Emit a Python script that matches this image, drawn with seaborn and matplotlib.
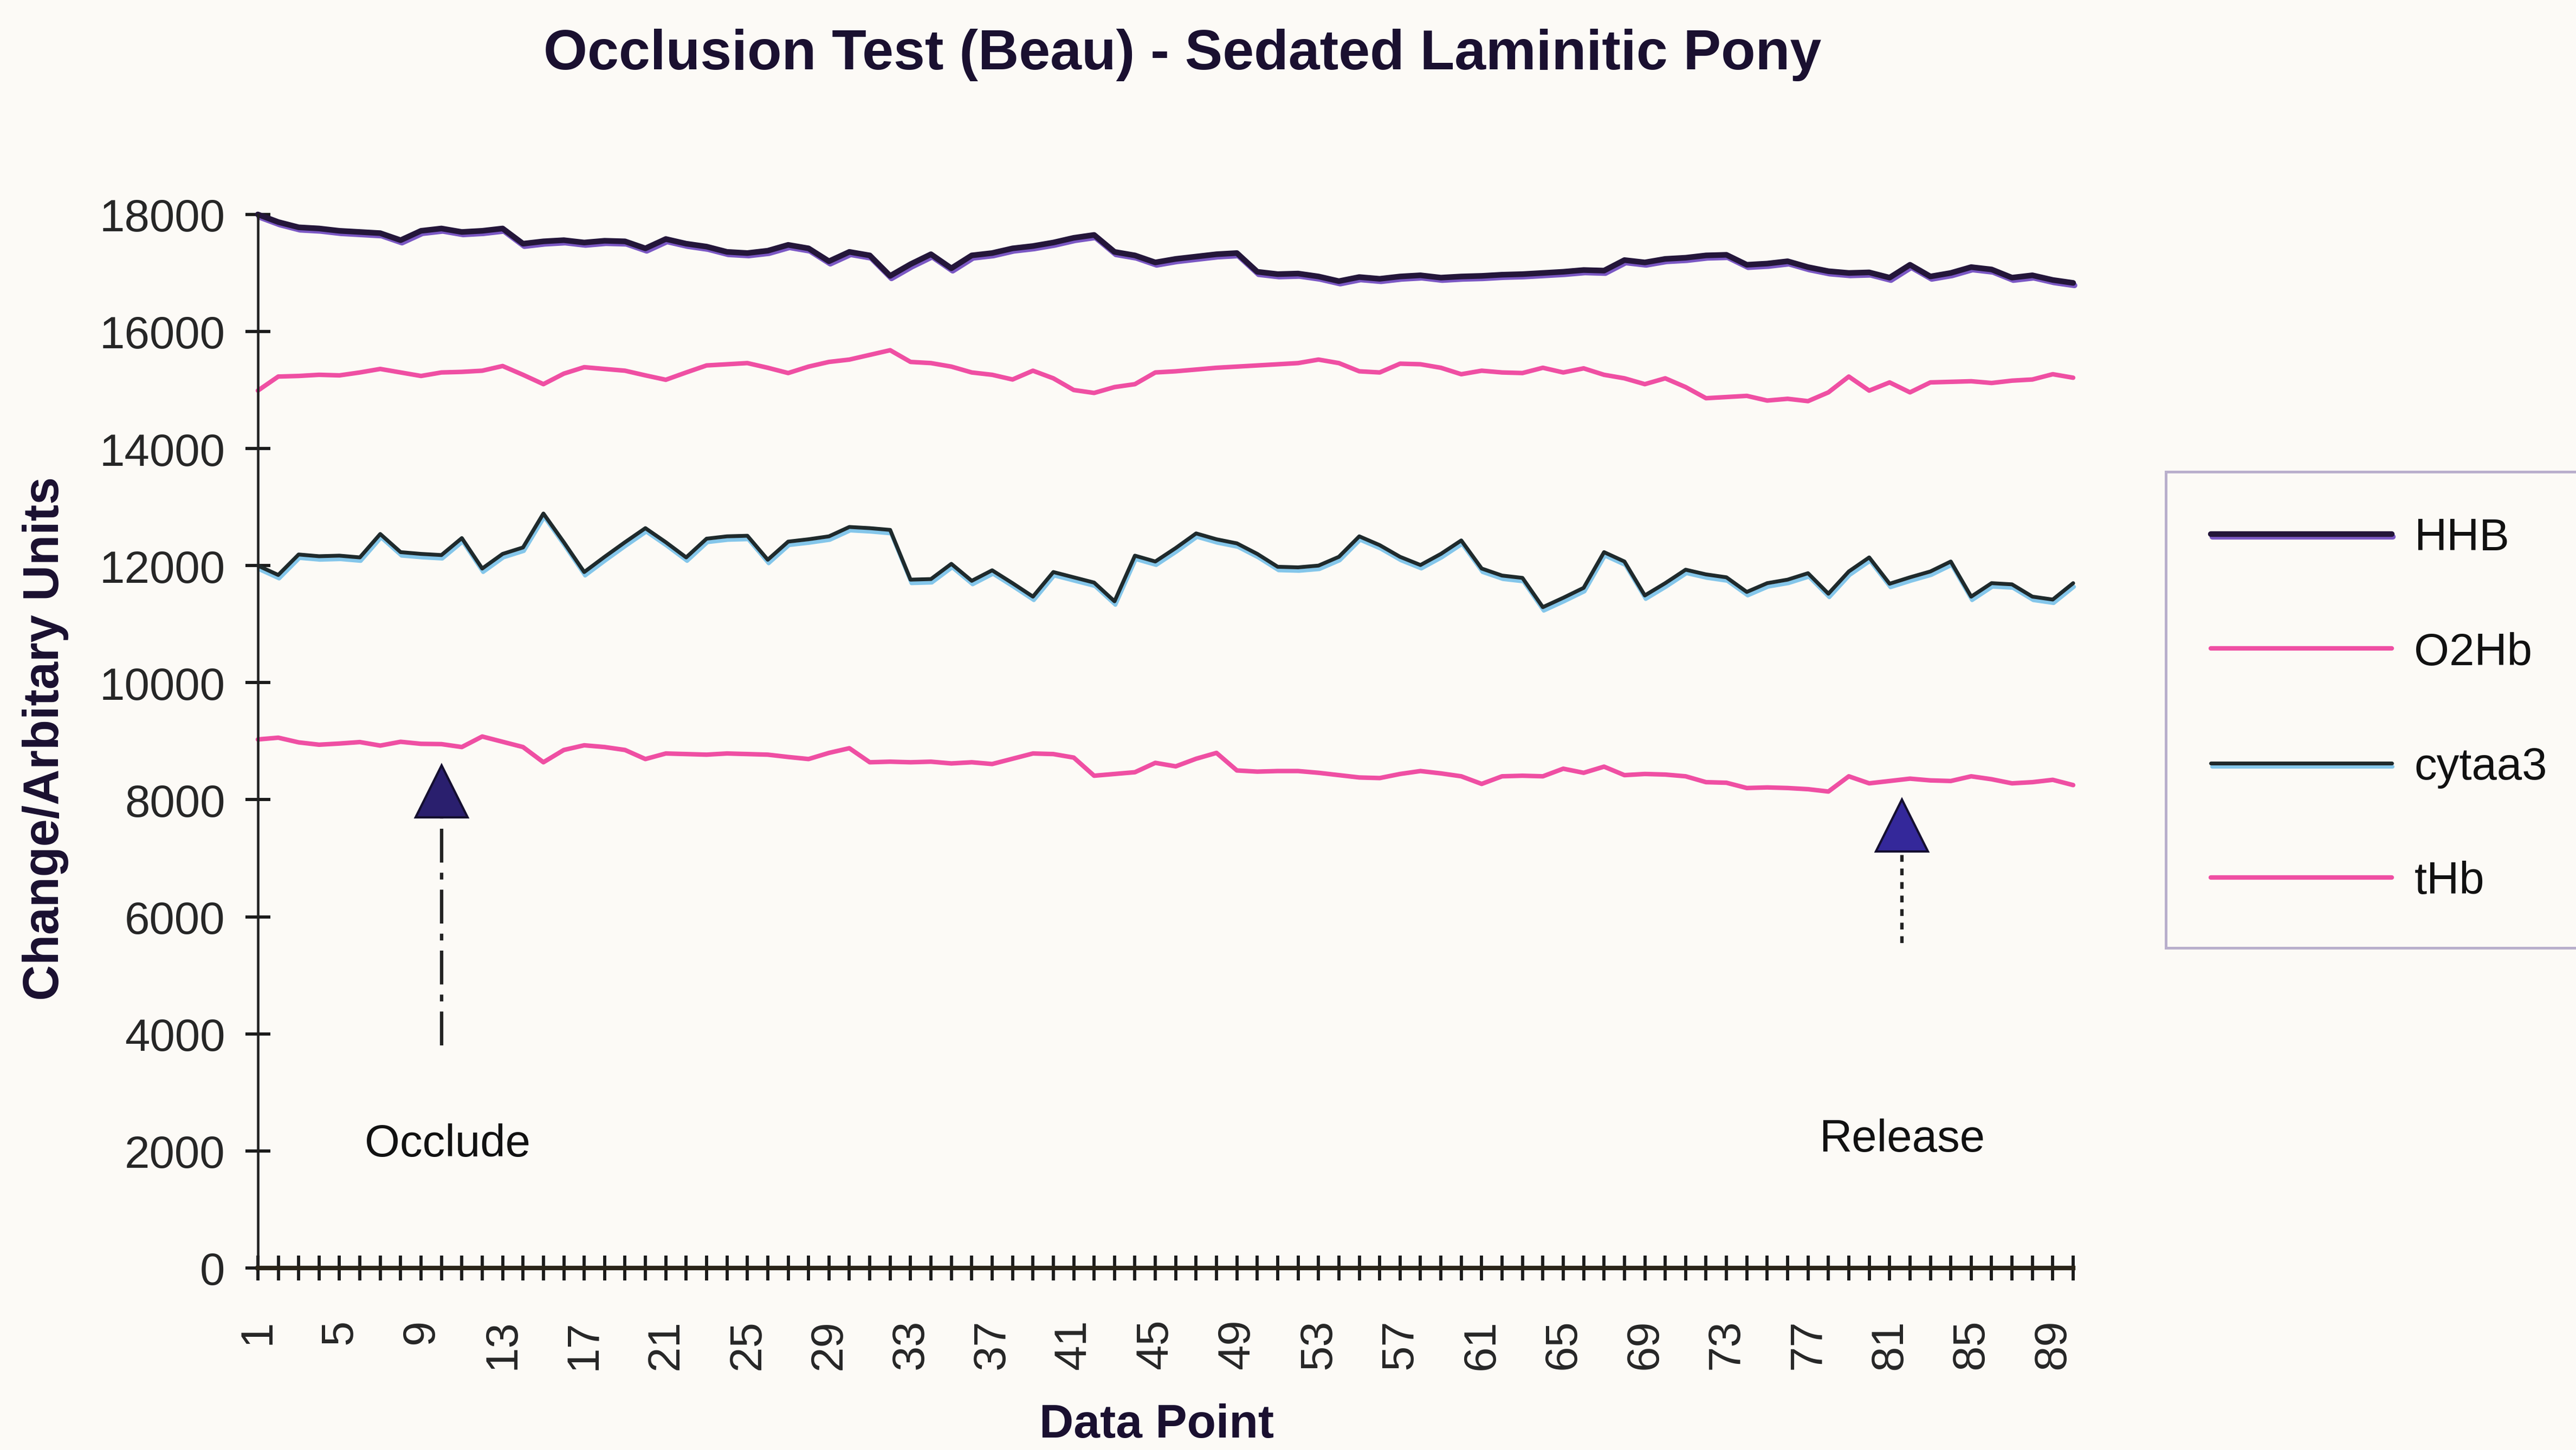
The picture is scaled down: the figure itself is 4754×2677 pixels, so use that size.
import matplotlib
matplotlib.use("Agg")
import matplotlib.pyplot as plt
import matplotlib.patheffects as pe
import pandas as pd
import seaborn as sns

# ---- data -------------------------------------------------------------
data_point = list(range(1, 91))

hhb = [18000, 17870, 17780, 17760, 17720, 17700, 17680, 17560, 17720, 17760,
       17700, 17720, 17760, 17500, 17540, 17560, 17520, 17550, 17540, 17420,
       17580, 17500, 17450, 17360, 17340, 17380, 17480, 17420, 17200, 17360,
       17300, 16950, 17150, 17320, 17080, 17300, 17340, 17420, 17460, 17520,
       17600, 17650, 17360, 17300, 17180, 17240, 17280, 17320, 17340, 17020,
       16980, 16990, 16940, 16860, 16930, 16900, 16940, 16960, 16920, 16940,
       16950, 16970, 16980, 17000, 17020, 17050, 17040, 17220, 17180, 17240,
       17260, 17300, 17310, 17140, 17160, 17200, 17100, 17030, 17000, 17010,
       16920, 17140, 16940, 17000, 17100, 17060, 16920, 16960, 16880, 16830]

o2hb = [14990, 15230, 15240, 15260, 15250, 15300, 15360, 15300, 15240, 15300,
        15310, 15330, 15410, 15260, 15100, 15280, 15390, 15360, 15330, 15250,
        15175, 15300, 15420, 15440, 15460, 15380, 15290, 15400, 15480, 15520,
        15600, 15680, 15480, 15460, 15400, 15300, 15260, 15180, 15330, 15200,
        15000, 14950, 15050, 15100, 15300, 15320, 15350, 15380, 15400, 15420,
        15440, 15460, 15520, 15460, 15320, 15300, 15450, 15440, 15380, 15270,
        15330, 15300, 15290, 15380, 15300, 15370, 15260, 15200, 15100, 15200,
        15050, 14860, 14880, 14900, 14820, 14850, 14810, 14960, 15230, 14990,
        15130, 14960, 15130, 15140, 15150, 15120, 15160, 15180, 15270, 15210]

cytaa3 = [12000, 11840, 12190, 12160, 12170, 12140, 12540, 12230, 12200, 12180,
          12470, 11950, 12200, 12310, 12890, 12400, 11890, 12150, 12400, 12640,
          12400, 12140, 12460, 12500, 12510, 12100, 12410, 12450, 12500, 12660,
          12640, 12610, 11760, 11770, 12030, 11740, 11920, 11700, 11470, 11890,
          11800, 11710, 11390, 12170, 12070, 12300, 12550, 12450, 12380, 12200,
          11980, 11970, 12000, 12150, 12500, 12350, 12150, 12010, 12200, 12430,
          11950, 11830, 11790, 11290, 11450, 11620, 12230, 12070, 11490, 11700,
          11930, 11850, 11800, 11550, 11700, 11760, 11870, 11520, 11900, 12140,
          11690, 11800, 11900, 12070, 11470, 11700, 11680, 11470, 11420, 11700]

thb = [9030, 9060, 8980, 8940, 8960, 8985, 8925, 8990, 8955, 8950,
       8900, 9080, 8990, 8900, 8640, 8850, 8930, 8900, 8850, 8695,
       8790, 8780, 8770, 8790, 8780, 8770, 8730, 8695, 8800, 8880,
       8640, 8650, 8640, 8650, 8620, 8640, 8610, 8700, 8790, 8780,
       8720, 8410, 8440, 8470, 8630, 8570, 8700, 8800, 8500, 8480,
       8490, 8490, 8460, 8420, 8380, 8370, 8440, 8490, 8450, 8400,
       8270, 8400, 8410, 8400, 8530, 8460, 8565, 8420, 8440, 8430,
       8400, 8300, 8290, 8200, 8210, 8200, 8180, 8140, 8400, 8280,
       8320, 8360, 8330, 8320, 8400, 8350, 8280, 8300, 8340, 8250]

series_names = ["HHB", "O2Hb", "cytaa3", "tHb"]
x_tick_labels = ["1", "5", "9", "13", "17", "21", "25", "29", "33", "37", "41",
                 "45", "49", "53", "57", "61", "65", "69", "73", "77", "81",
                 "85", "89"]
y_ticks = [0, 2000, 4000, 6000, 8000, 10000, 12000, 14000, 16000, 18000]

event_labels = ["Occlude", "Release"]
event_points = [10, 81.6]

# ---- styling ------------------------------------------------------------
paper = "#fcfaf6"
sns.set_theme(style="white")
plt.rcParams["font.family"] = ["Liberation Sans", "DejaVu Sans"]
plt.rcParams["text.color"] = "#111111"

line_style = {
    "HHB":    dict(color="#24163a", lw=2.5, shadow="#7b58c4", off=(0.6, -1.1)),
    "O2Hb":   dict(color="#ef4fa3", lw=2.0, shadow=None, off=None),
    "cytaa3": dict(color="#1f2a2c", lw=1.7, shadow="#84c6ea", off=(0.4, -1.6)),
    "tHb":    dict(color="#ef4fa3", lw=2.0, shadow=None, off=None),
}

df = pd.DataFrame({
    "Data Point": data_point * 4,
    "value": hhb + o2hb + cytaa3 + thb,
    "series": sum([[n] * len(data_point) for n in series_names], []),
})

fig = plt.figure(figsize=(4754 / 300, 2678 / 300), dpi=300, facecolor=paper)
ax = fig.add_axes([0.1001, 0.1255, 0.7047, 0.7263])
ax.set_facecolor(paper)

handles = []
for name in series_names:
    st = line_style[name]
    sub = df[df["series"] == name]
    n_before = len(ax.lines)
    sns.lineplot(data=sub, x="Data Point", y="value", color=st["color"],
                 lw=st["lw"], ax=ax, legend=False, estimator=None)
    line = ax.lines[n_before]
    line.set_clip_on(False)
    if st["shadow"]:
        line.set_path_effects([
            pe.SimpleLineShadow(offset=st["off"], shadow_color=st["shadow"],
                                alpha=1.0, rho=1.0),
            pe.Normal()])
    handles.append(line)

# ---- axes ---------------------------------------------------------------
ax.set_xlim(1, 90)
ax.set_ylim(0, 18000)
ax.set_yticks(y_ticks)
ax.set_yticklabels([str(v) for v in y_ticks], fontsize=20)
ax.set_xticks(data_point)
label_map = {int(t): t for t in x_tick_labels}
ax.set_xticklabels([label_map.get(p, "") for p in data_point],
                   rotation=90, fontsize=20)
ax.tick_params(axis="x", direction="inout", length=11, width=1.4,
               color="#1a1a1a", pad=17, bottom=True)
ax.tick_params(axis="y", direction="inout", length=11, width=1.4,
               color="#1a1a1a", pad=9, left=True)
for side in ("top", "right"):
    ax.spines[side].set_visible(False)
ax.spines["left"].set_color("#222222")
ax.spines["left"].set_linewidth(1.1)
ax.spines["bottom"].set_color("#2a2418")
ax.spines["bottom"].set_linewidth(2.0)

ax.set_xlabel("Data Point", fontsize=21, fontweight="bold", color="#1a1030")
ax.set_ylabel("Change/Arbitary Units", fontsize=22, fontweight="bold",
              color="#1a1030")
ax.xaxis.set_label_coords(0.495, -0.128)
ax.yaxis.set_label_coords(-0.104, 0.503)

fig.text(0.459, 0.962, "Occlusion Test (Beau) - Sedated Laminitic Pony",
         ha="center", va="center", fontsize=25, fontweight="bold",
         color="#1a1030")

# ---- event markers ------------------------------------------------------
arrow_color = "#2a1f6e"
occ_x, rel_x = event_points
ax.plot([occ_x, occ_x], [3800, 7700], color="#222222", lw=1.5,
        linestyle=(0, (10, 3, 2, 3)))
ax.plot([occ_x], [8140], marker="^", ms=23, color=arrow_color,
        markeredgecolor="#150f30", markeredgewidth=1.0)
ax.plot([rel_x, rel_x], [5550, 7150], color="#222222", lw=1.5,
        linestyle=(0, (2, 2)))
ax.plot([rel_x], [7560], marker="^", ms=23, color="#34289a",
        markeredgecolor="#150f30", markeredgewidth=1.0)
ax.text(occ_x + 0.3, 2120, event_labels[0], ha="center", va="center",
        fontsize=20)
ax.text(rel_x, 2200, event_labels[1], ha="center", va="center",
        fontsize=20)

# ---- legend -------------------------------------------------------------
leg = ax.legend(handles, series_names, loc="upper left",
                bbox_to_anchor=(0.832, 0.69),
                bbox_transform=fig.transFigure, fontsize=20, frameon=True,
                fancybox=False, handlelength=4.0, handletextpad=0.5,
                labelspacing=1.6, borderpad=1.0)
leg.get_frame().set_facecolor(paper)
leg.get_frame().set_edgecolor("#a99dc2")
leg.get_frame().set_linewidth(1.2)

fig.savefig("out.png", dpi=300, facecolor=paper)
